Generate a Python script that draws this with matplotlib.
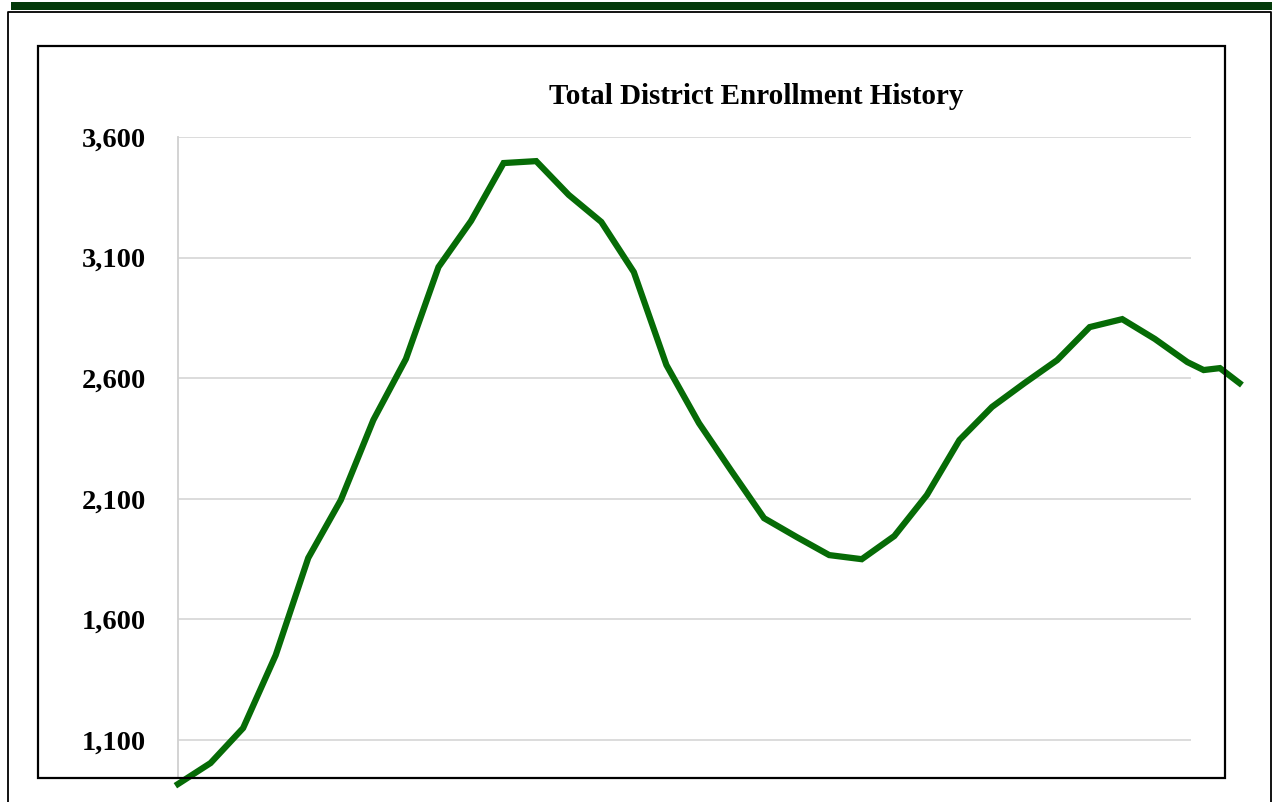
import matplotlib.pyplot as plt
from matplotlib.patches import Rectangle
from matplotlib.lines import Line2D
from matplotlib.ticker import FuncFormatter

# x positions are year steps along the chart (last few are partial steps)
steps = list(range(32)) + [31.5, 32, 32.6]
steps = sorted(steps)
enrollment = [918, 1005, 1150, 1452, 1855, 2095, 2427, 2680, 3061, 3252,
              3492, 3500, 3360, 3248, 3040, 2655, 2414, 2215, 2020, 1942,
              1867, 1850, 1946, 2116, 2344, 2481, 2580, 2675, 2812, 2845,
              2763, 2667, 2634, 2642, 2580]
y_ticks = [1100, 1600, 2100, 2600, 3100, 3600]
title = 'Total District Enrollment History'

W, H = 1272, 802
fig = plt.figure(figsize=(W / 100, H / 100), dpi=100)
serif = ['Liberation Serif', 'DejaVu Serif']


def px(x0, y0, x1, y1):
    # pixel box (top-left origin) -> figure fraction rect
    return (x0 / W, 1 - y1 / H, (x1 - x0) / W, (y1 - y0) / H)


# dark green band on top
l, b, w, h = px(11, 2, 1272, 10)
fig.patches.append(Rectangle((l, b), w, h, transform=fig.transFigure,
                             facecolor='#043a0a', edgecolor='none'))
# outer frame (bottom runs off the page)
fig.lines.append(Line2D([7.5 / W, 7.5 / W, 1271 / W, 1271 / W],
                        [0, 1 - 11.5 / H, 1 - 11.5 / H, 0],
                        transform=fig.transFigure, color='black', lw=1.3))
# inner chart box
l, b, w, h = px(37.5, 45.5, 1225, 778)
fig.patches.append(Rectangle((l, b), w, h, transform=fig.transFigure,
                             facecolor='none', edgecolor='black', lw=1.6))

ax = fig.add_axes(px(178, 137, 1191, 778))
ax.plot(steps, enrollment, color='#066b06', lw=4.5, clip_on=False,
        solid_joinstyle='miter', zorder=3)

ax.set_xlim(0, (1191 - 178) / 32.56)
ax.set_ylim(943, 3600)
ax.set_yticks(y_ticks)
ax.yaxis.set_major_formatter(FuncFormatter(lambda v, p: f'{int(v):,}'))
ax.set_xticks([])
ax.grid(axis='y', color='#d9d9d9', lw=1.3)
ax.set_axisbelow(True)
for s in ['top', 'right', 'bottom']:
    ax.spines[s].set_visible(False)
ax.spines['left'].set_color('#d0d0d0')
ax.spines['left'].set_linewidth(1.3)
ax.tick_params(axis='y', length=0, pad=23)
for lab in ax.get_yticklabels():
    lab.set_fontfamily(serif)
    lab.set_fontweight('bold')
    lab.set_fontsize(20.5)

fig.text(756 / W, 1 - 104 / H, title, ha='center', va='baseline',
         fontsize=21, fontweight='bold', family=serif)

fig.savefig('out.png', dpi=100)
